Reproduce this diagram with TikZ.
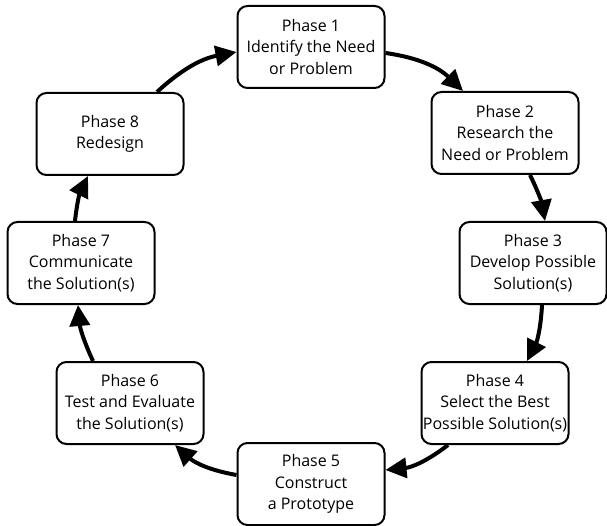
\documentclass[tikz,border=0pt]{standalone}
\usepackage{fontspec}
\setmainfont{Open Sans}
\usetikzlibrary{arrows.meta}
\begin{document}
\begin{tikzpicture}[x=1pt,y=-1pt,
  phase/.style={draw, line width=2pt, rounded corners=10pt,
    minimum width=147pt, minimum height=82pt, inner sep=0pt,
    align=center, font=\fontsize{16}{21.5}\selectfont},
  flow/.style={line width=4pt, -{Triangle[length=21pt,width=20pt]}}]
\useasboundingbox (0,0) rectangle (607,526);

% the eight phases, clockwise from the top
\node[phase] (p1) at (311,47)  {Phase 1\\Identify the Need\\or Problem};
\node[phase] (p2) at (505,133) {Phase 2\\Research the\\Need or Problem};
\node[phase] (p3) at (533,263) {Phase 3\\Develop Possible\\Solution(s)};
\node[phase] (p4) at (495,403) {Phase 4\\Select the Best\\Possible Solution(s)};
\node[phase] (p5) at (311,484) {Phase 5\\Construct\\a Prototype};
\node[phase] (p6) at (130,403) {Phase 6\\Test and Evaluate\\the Solution(s)};
\node[phase] (p7) at (81,263)  {Phase 7\\Communicate\\the Solution(s)};
\node[phase] (p8) at (110,134) {Phase 8\\Redesign};

% cycle connectors
\draw[flow] ([yshift=-6pt]p1.east)  to[bend left=18] ([xshift=-42pt]p2.north);
\draw[flow] ([xshift=25pt]p2.south) to[bend left=8]  ([xshift=12pt]p3.north);
\draw[flow] ([xshift=9pt]p3.south)  to[bend left=12] ([xshift=32pt]p4.north);
\draw[flow] ([xshift=-47pt]p4.south) to[bend left=16] ([yshift=14pt]p5.east);
\draw[flow] ([yshift=9pt]p5.west)   to[bend left=16] ([xshift=45pt]p6.south);
\draw[flow] ([xshift=-37pt]p6.north) to[bend left=10] ([xshift=-3pt]p7.south);
\draw[flow] ([xshift=-6pt]p7.north) to[bend left=10] ([xshift=-22pt]p8.south);
\draw[flow] ([xshift=47pt]p8.north) to[bend left=16] ([yshift=-5pt]p1.west);
\end{tikzpicture}
\end{document}
